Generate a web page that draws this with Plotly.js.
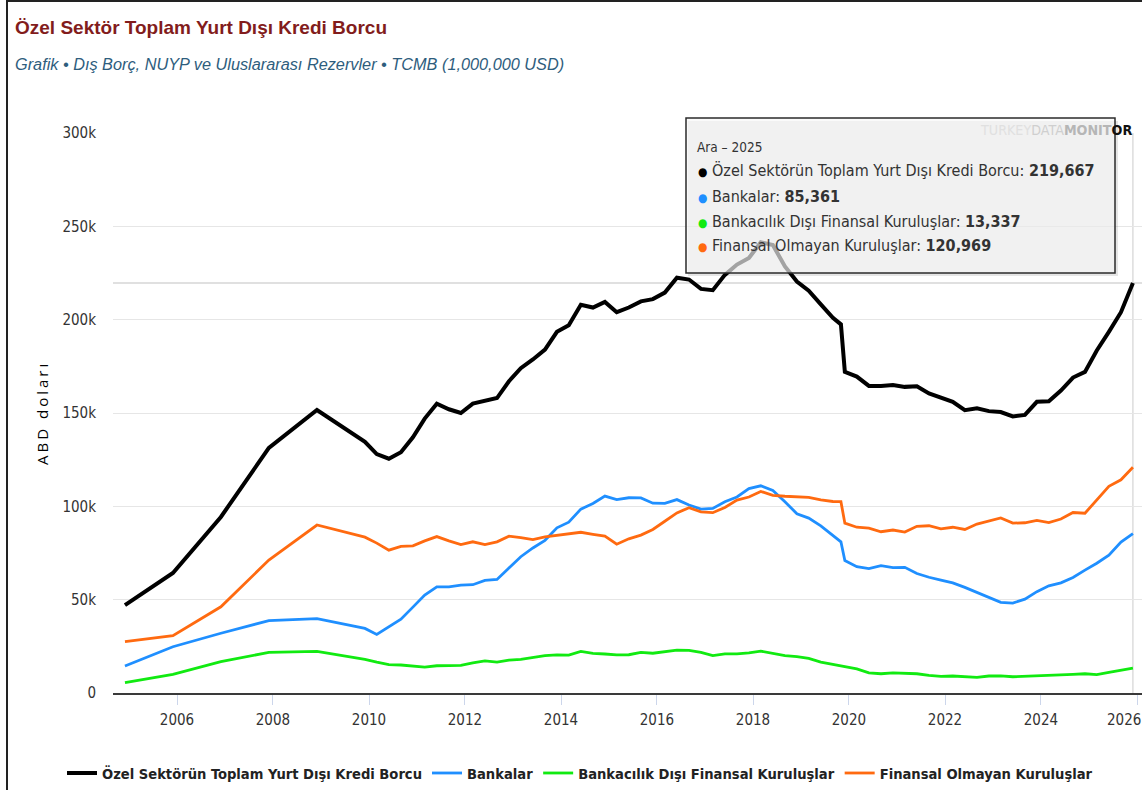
<!DOCTYPE html>
<html>
<head>
<meta charset="utf-8">
<script src="https://cdn.plot.ly/plotly-3.0.1.min.js"></script>
<style>
  html, body { margin: 0; padding: 0; background: #fff; }
  #wrap { position: relative; width: 1142px; height: 790px; overflow: hidden; }
  #chart { position: absolute; left: 0; top: 0; width: 1142px; height: 790px; }
  #frame { position: absolute; left: 6px; top: 0; width: 1200px; height: 820px;
           border-left: 2px solid #222; border-top: 2px solid #222; pointer-events: none; }
  g.annotation[data-index="2"] text { letter-spacing: 3px; }
</style>
</head>
<body>
<div id="wrap"><div id="chart"></div><div id="frame"></div></div>
<script>
// ---------------- DATA ----------------
const dates = [
  '2004-12','2005-12','2006-12','2007-12','2008-12','2009-12',
  '2010-03','2010-06','2010-09','2010-12',
  '2011-03','2011-06','2011-09','2011-12',
  '2012-03','2012-06','2012-09','2012-12',
  '2013-03','2013-06','2013-09','2013-12',
  '2014-03','2014-06','2014-09','2014-12',
  '2015-03','2015-06','2015-09','2015-12',
  '2016-03','2016-06','2016-09','2016-12',
  '2017-03','2017-06','2017-09','2017-12',
  '2018-03','2018-06','2018-09','2018-12',
  '2019-03','2019-06','2019-09','2019-11','2019-12',
  '2020-03','2020-06','2020-09','2020-12',
  '2021-03','2021-06','2021-09','2021-12',
  '2022-03','2022-06','2022-09','2022-12',
  '2023-03','2023-06','2023-09','2023-12',
  '2024-03','2024-06','2024-09','2024-12',
  '2025-03','2025-06','2025-09','2025-12'
];

const ozelSektorToplam = [
  47100, 64300, 94300, 131300, 151600, 134600,
  128000, 125500, 129000, 137000,
  147000, 155000, 152000, 150000,
  155000, 156500, 158000, 167000,
  174000, 178700, 184000, 193500,
  197000, 208000, 206500, 209500,
  204000, 206500, 209800, 211000,
  214500, 222500, 221500, 216500,
  215800, 224000, 229500, 233000,
  241500, 240000, 228500, 220400,
  215500, 208200, 201000, 197500, 172000,
  169500, 164500, 164500, 165000,
  164000, 164300, 160500, 158500,
  156000, 151500, 152500, 151000,
  150500, 148200, 149000, 156000,
  156300, 162000, 169000, 172000,
  183500, 193500, 204000, 219667
];

const bankalar = [
  14500, 24800, 32000, 38800, 39800, 34600,
  31400, 35300, 39500, 46000,
  52500, 56900, 56800, 57800,
  58000, 60300, 60800, 67000,
  73000, 77700, 81800, 88500,
  91500, 98500, 101500, 105500,
  103600, 104600, 104500, 101700,
  101600, 103600, 100700, 98500,
  98900, 102500, 105000, 109500,
  111000, 108500, 102500, 96000,
  93700, 89500, 84600, 81000, 71000,
  67700, 66600, 68200, 67200,
  67300, 64000, 62000, 60500,
  59000, 56600, 54000, 51000,
  48600, 48200, 50300, 54300,
  57400, 59000, 61900, 65800,
  69500, 73800, 80800, 85361
];

const bankacilikDisiFinansal = [
  5500, 10000, 16800, 21800, 22300, 18000,
  16500, 15200, 15000, 14500,
  13900, 14600, 14800, 14800,
  16200, 17200, 16500, 17600,
  18000, 19200, 20000, 20400,
  20300, 22300, 21200, 20900,
  20400, 20500, 21800, 21300,
  22200, 23000, 22800, 21800,
  20000, 21000, 21000, 21500,
  22400, 21200, 20000, 19500,
  18500, 16500, 15200, 14500, 14000,
  12900, 10800, 10300, 10800,
  10600, 10300, 9500, 8900,
  9100, 8800, 8400, 9100,
  9200, 8700, 8900, 9100,
  9400, 9600, 10000, 10300,
  9800, 11000, 12200, 13337
];

const finansalOlmayan = [
  27500, 30700, 46200, 71200, 90000, 83500,
  80300, 76500, 78500, 78800,
  81500, 83800, 81500, 79500,
  81000, 79500, 81000, 84000,
  83200, 82200, 83600, 84500,
  85000, 86100, 85000, 84000,
  79700, 82600, 84600, 87600,
  92000, 96500, 99300, 97000,
  96600, 99400, 103300, 105000,
  108000, 105900, 105400, 105200,
  104800, 103400, 102600, 102500, 91000,
  88800, 88300, 86400, 87300,
  86200, 89300, 89600, 87900,
  88800, 87600, 90500, 92100,
  93800, 91000, 91200, 92500,
  91300, 93200, 96700, 96300,
  103200, 110700, 114200, 120969
];

const seriesNames = [
  'Özel Sektörün Toplam Yurt Dışı Kredi Borcu',
  'Bankalar',
  'Bankacılık Dışı Finansal Kuruluşlar',
  'Finansal Olmayan Kuruluşlar'
];
const seriesValues = [ozelSektorToplam, bankalar, bankacilikDisiFinansal, finansalOlmayan];

const yTickVals = [0, 50000, 100000, 150000, 200000, 250000, 300000];
const yTickText = ['0', '50k', '100k', '150k', '200k', '250k', '300k'];
const xTickVals = ['2006-01-01','2008-01-01','2010-01-01','2012-01-01','2014-01-01','2016-01-01',
                   '2018-01-01','2020-01-01','2022-01-01','2024-01-01','2026-01-01'];
const xTickText = ['2006','2008','2010','2012','2014','2016','2018','2020','2022','2024','2026'];
const trMonths = ['Oca','Şub','Mar','Nis','May','Haz','Tem','Ağu','Eyl','Eki','Kas','Ara'];

const titleText = 'Özel Sektör Toplam Yurt Dışı Kredi Borcu';
const subtitleText = 'Grafik • Dış Borç, NUYP ve Uluslararası Rezervler • TCMB (1,000,000 USD)';
const yTitleText = 'ABD doları';
const watermarkParts = ['TURKEY', 'DATA', 'MONIT', 'OR'];

// ---------------- STYLE ----------------
const colors = ['#000000', '#1f8fff', '#11ea11', '#ff6a10'];
const widths = [4, 2.8, 2.8, 2.8];
const COND = '"DejaVu Sans Condensed", "Liberation Sans Narrow", "Open Sans", sans-serif';
const ARIAL = '"Liberation Sans", Arial, sans-serif';

const W = 1142, H = 790;
const L = 113, R = 1142, T = 133, B = 693;
const px = x => (x - L) / (R - L);
const py = y => (B - y) / (B - T);

const traces = seriesNames.map((name, i) => ({
  type: 'scatter', mode: 'lines', name: name,
  x: dates, y: seriesValues[i],
  line: { color: colors[i], width: widths[i] },
  hoverinfo: 'skip'
}));

const lastIdx = dates.length - 1;
const lastDate = dates[lastIdx];
const lastMonth = parseInt(lastDate.split('-')[1], 10);
const tipHeader = trMonths[lastMonth - 1] + ' – ' + lastDate.split('-')[0];
const fmt = v => v.toLocaleString('en-US');

// the edge tick label is justified inside the chart (as the original does), so it is drawn separately
const nTicks = xTickText.length;
const axisTickText = xTickText.map((t, i) => (i === nTicks - 1 ? '' : t));

const annotations = [
  { text: '<b>' + titleText + '</b>', xref: 'paper', yref: 'paper', x: px(13), y: py(27),
    xanchor: 'left', yanchor: 'middle', showarrow: false,
    font: { family: ARIAL, size: 19, color: '#821c1c' } },
  { text: '<i>' + subtitleText + '</i>', xref: 'paper', yref: 'paper', x: px(13), y: py(64),
    xanchor: 'left', yanchor: 'middle', showarrow: false,
    font: { family: ARIAL, size: 16.3, color: '#2e5d7d' } },
  { text: yTitleText, xref: 'paper', yref: 'paper', x: px(42), y: py(413), textangle: -90,
    xanchor: 'center', yanchor: 'middle', showarrow: false,
    font: { family: '"Open Sans", sans-serif', size: 15, color: '#000' } },
  // watermark, drawn above the tooltip box (faded where it sits inside the box)
  { text: '<span style="color:#e0e0e0">' + watermarkParts[0] + '</span><span style="color:#cfcfcf">' + watermarkParts[1] +
          '</span><b><span style="color:#b6b6b6">' + watermarkParts[2] + '</span><span style="color:#111">' + watermarkParts[3] + '</span></b>',
    xref: 'paper', yref: 'paper', x: px(1134), y: py(130), xanchor: 'right', yanchor: 'middle',
    showarrow: false, font: { family: COND, size: 14.2 } },
  { text: tipHeader, xref: 'paper', yref: 'paper', x: px(695), y: py(147), xanchor: 'left', yanchor: 'middle',
    showarrow: false, font: { family: COND, size: 13.5, color: '#333' } },
  { text: xTickText[nTicks - 1], xref: 'paper', yref: 'paper', x: px(1143), y: py(720),
    xanchor: 'right', yanchor: 'middle', showarrow: false,
    font: { family: COND, size: 15, color: '#333' } }
];
const tipRowsY = [170, 196, 221, 246];
seriesNames.forEach((name, i) => {
  annotations.push({
    text: '<span style="color:' + colors[i] + ';font-size:12px">●</span> ' + name + ': <b>' + fmt(seriesValues[i][lastIdx]) + '</b>',
    xref: 'paper', yref: 'paper', x: px(696), y: py(tipRowsY[i]), xanchor: 'left', yanchor: 'middle',
    showarrow: false, font: { family: COND, size: 16, color: '#333' }
  });
});

const shapes = [
  { type: 'line', xref: 'x', yref: 'paper', x0: lastDate, x1: lastDate, y0: 0, y1: 1,
    line: { color: '#cccccc', width: 1 }, layer: 'below' },
  { type: 'line', xref: 'paper', yref: 'y', x0: 0, x1: 1,
    y0: ozelSektorToplam[lastIdx], y1: ozelSektorToplam[lastIdx],
    line: { color: '#d6d6d6', width: 1.5 }, layer: 'below' },
  // tooltip shadow + box
  { type: 'rect', xref: 'paper', yref: 'paper', x0: px(688), x1: px(1118), y0: py(276), y1: py(121),
    fillcolor: 'rgba(0,0,0,0.10)', line: { width: 0 }, layer: 'above' },
  { type: 'rect', xref: 'paper', yref: 'paper', x0: px(686), x1: px(1115), y0: py(273), y1: py(118),
    fillcolor: 'rgba(247,247,247,0.66)', line: { color: '#2b2b2b', width: 1.5 }, layer: 'above' }
];

const layout = {
  width: W, height: H,
  margin: { l: L, r: W - R, t: T, b: H - B, pad: 0 },
  paper_bgcolor: '#ffffff', plot_bgcolor: '#ffffff',
  showlegend: true,
  hovermode: false,
  font: { family: COND, color: '#333' },
  xaxis: {
    type: 'date', range: ['2004-09-01', '2026-02-08'],
    tickvals: xTickVals, ticktext: axisTickText,
    ticks: 'outside', ticklen: 10, tickwidth: 1, tickcolor: '#ccd6eb',
    showgrid: false, zeroline: false,
    showline: true, linecolor: '#3a3a3a', linewidth: 2,
    tickfont: { family: COND, size: 15, color: '#333' },
    ticklabelstandoff: 2
  },
  yaxis: {
    range: [0, 300000], tickvals: yTickVals, ticktext: yTickText,
    showgrid: true, gridcolor: '#e6e6e6', gridwidth: 1,
    zeroline: false, showline: false, ticks: '',
    tickfont: { family: COND, size: 15, color: '#333' },
    ticklabelstandoff: 16
  },
  legend: {
    orientation: 'h', x: px(62), xanchor: 'left', y: py(773), yanchor: 'middle',
    font: { family: COND, size: 14.6, color: '#222', weight: 'bold' },
    bgcolor: 'rgba(0,0,0,0)', itemwidth: 30
  },
  annotations: annotations,
  shapes: shapes
};

Plotly.newPlot('chart', traces, layout, { displayModeBar: false, staticPlot: true });
</script>
</body>
</html>
